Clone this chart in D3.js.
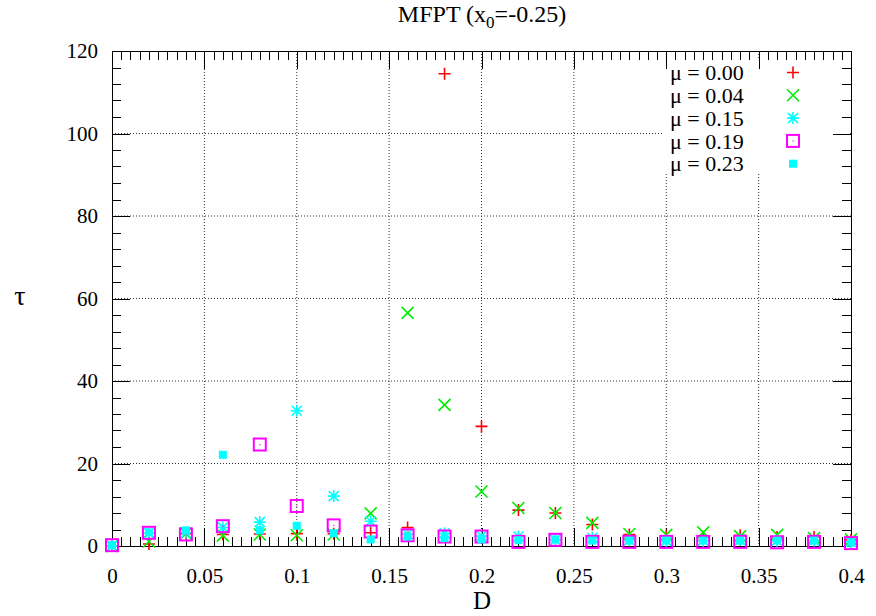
<!DOCTYPE html>
<html><head><meta charset="utf-8">
<script src="https://cdn.jsdelivr.net/npm/d3@7"></script>
<style>html,body{margin:0;padding:0;background:#fff;}</style>
</head><body>
<svg id="chart" width="876" height="616"></svg>
<script>
const D = [0,0.02,0.04,0.06,0.08,0.10,0.12,0.14,0.16,0.18,0.20,0.22,0.24,0.26,0.28,0.30,0.32,0.34,0.36,0.38,0.40];
const mu000 = [0,0.5,3.0,2.8,2.9,3.0,3.0,3.2,4.5,114.5,29.0,8.7,8.0,5.2,2.8,2.5,2.2,2.6,2.2,2.2,1.5];
const mu004 = [0,1.1,3.0,2.5,2.8,2.6,2.8,7.9,56.5,34.2,13.2,9.2,8.0,5.6,2.9,2.7,3.3,2.4,2.7,1.9,1.6];
const mu015 = [0,3.1,3.2,4.5,5.8,32.8,12.1,6.0,2.9,3.1,2.4,2.3,1.5,2.0,1.4,1.3,1.3,1.5,1.3,1.3,1.0];
const mu019 = [0.2,3.2,2.8,4.8,24.6,9.7,5.0,3.5,2.6,2.3,2.3,1.0,1.5,1.0,1.0,1.0,1.0,1.0,0.9,1.0,0.7];
const mu023 = [0.2,3.3,3.8,22.1,3.8,4.9,3.1,1.6,2.3,1.9,1.6,1.4,1.6,1.3,1.3,1.3,1.3,1.3,1.3,1.3,0.8];
const seriesNames = ["μ = 0.00","μ = 0.04","μ = 0.15","μ = 0.19","μ = 0.23"];
const xTicks = [0,0.05,0.1,0.15,0.2,0.25,0.3,0.35,0.4];
const xTickLabels = ["0","0.05","0.1","0.15","0.2","0.25","0.3","0.35","0.4"];
const yTicks = [0,20,40,60,80,100,120];

const svg = d3.select("#chart");
const L=112, R=851, T=51, B=546;
const x = d3.scaleLinear().domain([0,0.4]).range([L,R]);
const y = d3.scaleLinear().domain([0,120]).range([B,T]);
const font = "'Liberation Serif','Times New Roman',serif";
const FS = 21;

// grid
const g = svg.append("g");
g.selectAll(".gx").data(xTicks.slice(1,-1)).enter().append("line")
  .attr("x1",d=>x(d)).attr("x2",d=>x(d)).attr("y1",T).attr("y2",B)
  .attr("stroke","#333").attr("stroke-width",1).attr("stroke-dasharray","1,2");
g.selectAll(".gy").data(yTicks.slice(1,-1)).enter().append("line")
  .attr("x1",L).attr("x2",R).attr("y1",d=>y(d)).attr("y2",d=>y(d))
  .attr("stroke","#333").attr("stroke-width",1).attr("stroke-dasharray","1,2");

// legend background (covers grid)
svg.append("rect").attr("x",663).attr("y",60).attr("width",R-663-1).attr("height",114).attr("fill","#fff");

// ticks (all four sides)
const xMinor = d3.range(0,0.4001,0.005);
const yMinor = d3.range(0,120.001,4);
const MAJ=18, MIN=9;
function isMajX(v){return xTicks.some(t=>Math.abs(t-v)<1e-6);}
function isMajY(v){return yTicks.some(t=>Math.abs(t-v)<1e-6);}
const tk = svg.append("g").attr("stroke","#000").attr("stroke-width",1);
xMinor.forEach(v=>{
  const len = isMajX(v)?MAJ:MIN, px = Math.round(x(v))+0.5;
  tk.append("line").attr("x1",px).attr("x2",px).attr("y1",B).attr("y2",B-len);
  tk.append("line").attr("x1",px).attr("x2",px).attr("y1",T).attr("y2",T+len);
});
yMinor.forEach(v=>{
  const len = isMajY(v)?MAJ:MIN, py = Math.round(y(v))+0.5;
  tk.append("line").attr("x1",L).attr("x2",L+len).attr("y1",py).attr("y2",py);
  tk.append("line").attr("x1",R).attr("x2",R-len).attr("y1",py).attr("y2",py);
});
svg.append("rect").attr("x",L+0.5).attr("y",T+0.5).attr("width",R-L).attr("height",B-T)
  .attr("fill","none").attr("stroke","#000").attr("stroke-width",1);

// axis labels via d3 axes (ticks drawn above, labels here)
const xAxis = d3.axisBottom(x).tickValues(xTicks).tickFormat((d,i)=>xTickLabels[i]).tickSize(0).tickPadding(22);
const xa = svg.append("g").attr("transform",`translate(0,${B})`).call(xAxis);
xa.select(".domain").remove();
xa.selectAll("text").attr("font-family",font).attr("font-size",FS).attr("fill","#000");
const yAxis = d3.axisLeft(y).tickValues(yTicks).tickFormat(d3.format("d")).tickSize(0).tickPadding(14);
const ya = svg.append("g").attr("transform",`translate(${L},0)`).call(yAxis);
ya.select(".domain").remove();
ya.selectAll("text").attr("font-family",font).attr("font-size",FS).attr("fill","#000");

// titles
const tt = svg.append("text").attr("x",482).attr("y",22).attr("text-anchor","middle")
  .attr("font-family",font).attr("font-size",24);
tt.append("tspan").text("MFPT (x");
tt.append("tspan").attr("font-size",17).attr("dy",6).text("0");
tt.append("tspan").attr("dy",-6).text("=-0.25)");
svg.append("text").attr("x",482).attr("y",609).attr("text-anchor","middle")
  .attr("font-family",font).attr("font-size",25).text("D");
svg.append("text").attr("x",20).attr("y",305).attr("text-anchor","middle")
  .attr("font-family",font).attr("font-size",28).text("τ");

// markers
const S=6;
const shapes = [
  (sel)=>sel.append("path").attr("d",`M${-S},0H${S}M0,${-S}V${S}`).attr("stroke","#ff0000").attr("stroke-width",1.6).attr("fill","none"),
  (sel)=>sel.append("path").attr("d",`M${-S},${-S}L${S},${S}M${-S},${S}L${S},${-S}`).attr("stroke","#00ee00").attr("stroke-width",1.6).attr("fill","none"),
  (sel)=>sel.append("path").attr("d",`M${-S},0H${S}M0,${-S}V${S}M${-S+1},${-S+1}L${S-1},${S-1}M${-S+1},${S-1}L${S-1},${-S+1}`).attr("stroke","#00ffff").attr("stroke-width",1.6).attr("fill","none"),
  (sel)=>{
     sel.append("rect").attr("x",-S).attr("y",-S).attr("width",2*S).attr("height",2*S).attr("fill","none").attr("stroke","#ff00ff").attr("stroke-width",2);
     sel.append("rect").attr("x",-0.5).attr("y",-0.5).attr("width",1.2).attr("height",1.2).attr("fill","#ff00ff");},
  (sel)=>sel.append("rect").attr("x",-4).attr("y",-4).attr("width",8).attr("height",8).attr("fill","#00ffff")
];
const allSeries = [mu000,mu004,mu015,mu019,mu023];
allSeries.forEach((vals,si)=>{
  const gs = svg.append("g");
  vals.forEach((v,i)=>{
    const m = gs.append("g").attr("transform",`translate(${x(D[i])},${y(v)})`);
    shapes[si](m);
  });
});

// legend
const legY0 = 72.5, legDy = 22.8;
seriesNames.forEach((name,i)=>{
  svg.append("text").attr("x",670).attr("y",legY0+i*legDy).attr("dy","0.35em")
    .attr("font-family",font).attr("font-size",22).text(name);
  const m = svg.append("g").attr("transform",`translate(793,${legY0+i*legDy})`);
  shapes[i](m);
});
</script>
</body></html>
